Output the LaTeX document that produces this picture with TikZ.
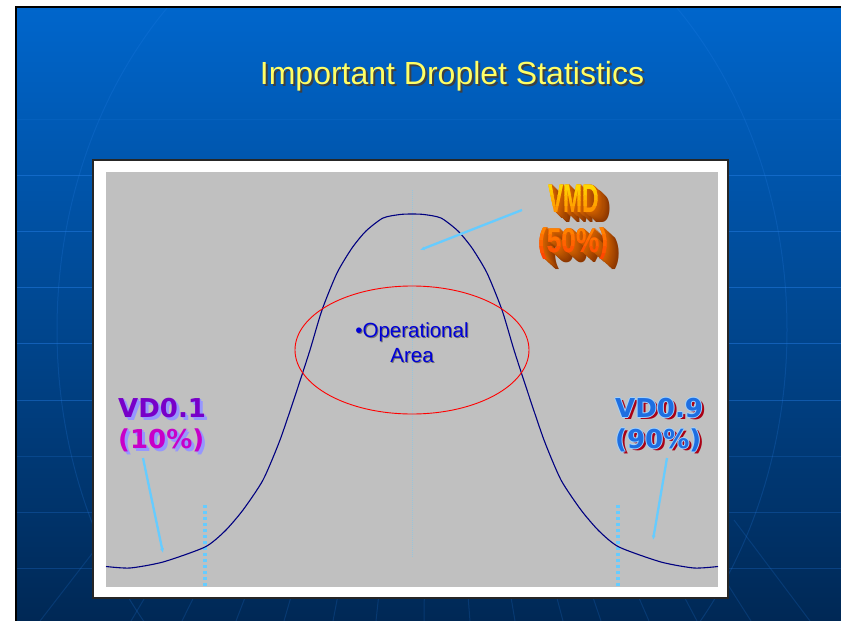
\documentclass[tikz,border=0pt]{standalone}
\usepackage{fontspec}
\usepackage{graphicx}
\setmainfont{Liberation Sans}
\newfontfamily\wordfont{DejaVu Sans}
\usetikzlibrary{arrows.meta,shapes.geometric}

\definecolor{slideTop}{RGB}{0,102,204}
\definecolor{slideMid}{RGB}{0,80,160}
\definecolor{slideBot}{RGB}{0,40,85}
\definecolor{gridLine}{RGB}{40,130,235}
\definecolor{plotGray}{RGB}{192,192,192}
\definecolor{curveBlue}{RGB}{0,0,128}
\definecolor{pointer}{RGB}{102,204,255}
\definecolor{titleYellow}{RGB}{255,255,102}
\definecolor{opBlue}{RGB}{0,0,215}
\definecolor{vmdYellow}{RGB}{255,230,0}
\definecolor{vmdOrange}{RGB}{255,150,0}
\definecolor{pctOrange}{RGB}{255,145,0}
\definecolor{pctRed}{RGB}{255,70,0}
\definecolor{extLight}{RGB}{215,100,0}
\definecolor{extDark}{RGB}{140,55,0}
\definecolor{lowPurple}{RGB}{120,0,200}
\definecolor{lowMagenta}{RGB}{200,0,200}
\definecolor{lowShadow}{RGB}{150,150,255}
\definecolor{highBlue}{RGB}{30,110,225}
\definecolor{highRim}{RGB}{160,210,255}
\definecolor{highShadow}{RGB}{170,0,20}

\tikzstyle{slidetitle} = [text=titleYellow, font=\fontsize{32}{32}\selectfont, inner sep=0pt, anchor=base]
\tikzstyle{gridline} = [gridLine, line width=1pt]
\tikzstyle{optext} = [text=opBlue, font=\fontsize{20.5}{25}\selectfont, align=center, inner sep=0pt, anchor=base]
\tikzstyle{pointerline} = [pointer, line width=2.3pt, -{Latex[length=4.5pt,width=4pt]}]
\tikzstyle{quantile} = [pointer, line width=3.5pt, dash pattern=on 3pt off 3pt]
\tikzstyle{art} = [inner sep=0pt, anchor=base west]
\tikzstyle{vdtext} = [inner sep=0pt, anchor=base west, font=\wordfont\bfseries\fontsize{26}{26}\selectfont]

\newcommand{\vmdword}{\scalebox{0.57}[1]{\fontsize{40}{40}\selectfont\bfseries VMD}}
\newcommand{\pctword}{\scalebox{0.77}[1]{\fontsize{34}{34}\selectfont\bfseries (50\%)}}

\begin{document}
\begin{tikzpicture}[x=1pt,y=-1pt]
\useasboundingbox (0,0) rectangle (841,621);
\fill[white] (0,0) rectangle (841,621);

% slide background
\shade[top color=slideTop, middle color=slideMid, bottom color=slideBot] (16,7) rectangle (841,621);
\begin{scope}
  \clip (16,7) rectangle (841,621);
  \foreach \gy/\op in {119/0.15,175/0.45,231/0.45,287/0.45,343/0.45,400/0.4,456/0.2,512/0.25,568/0.25}
    \draw[gridline, opacity=\op] (16,\gy) -- (841,\gy);
  \draw[gridline, opacity=0.2] (422,330) ellipse [x radius=365, y radius=450];
  \foreach \bx in {40,131,182,236,284,333,376,424,470,515,563,601,649,697,751,810}
    \draw[gridline, opacity=0.18] ({430+(\bx-430)*0.8},520) -- (\bx,621);
\end{scope}
\draw[black, line width=2pt] (16,621) -- (16,7) -- (841,7);

% title
\node[slidetitle, text=black!75] (titleShadow) at (454,86) {Important Droplet Statistics};
\node[slidetitle] (title) at (452,84) {Important Droplet Statistics};

% chart frame
\draw[fill=white, draw=black!85, line width=1.5pt] (93,160) rectangle (728,598);
\fill[plotGray] (106,172) rectangle (718,587);

% median and quantile lines
\draw[pointer!45!plotGray, line width=0.5pt, dash pattern=on 0.7pt off 1.3pt] (412,190) -- (412,557);
\draw[quantile] (205,505) -- (205,588);
\draw[quantile] (618,505) -- (618,588);

% distribution curve
\draw[curveBlue, line width=1.1pt] plot[smooth, tension=0.4] coordinates {
  (106,566.5) (130,568) (163,562) (205,547) (225,531) (243,510) (263,480)
  (280,440) (297,390) (310,350) (322,310) (337,273) (352,248) (366,231)
  (383,218) (400,214.5) (412,214) (424,214.5) (441,218) (458,231) (472,248)
  (487,273) (502,310) (514,350) (527,390) (544,440) (561,480) (581,510)
  (599,531) (619,547) (661,562) (694,568) (718,566.5)};

% operational area
\node[draw=red, ellipse, line width=0.9pt, minimum width=234pt, minimum height=128pt, inner sep=0pt] (opRing) at (412,350) {};
\node[optext, text=black!55] (opShadow) at (413,363) {\textbullet Operational\\Area};
\node[optext] (opArea) at (412,362) {\textbullet Operational\\Area};

% VMD label
\foreach \k in {11,10,...,1} {
  \pgfmathtruncatemacro\p{\k*9}
  \node[art, text=extDark!\p!extLight] (vmd-ext-\k) at ({548+1.1*\k},{212+0.95*\k}) {\vmdword};
  \node[art, text=extDark!\p!extLight] (pct-ext-\k) at ({538+1.1*\k},{252+0.95*\k}) {\pctword};
}
\node[art, text=vmdOrange] (vmd) at (548,212) {\vmdword};
\node[art, text=pctRed] (pct) at (538,252) {\pctword};
\foreach \i in {0,...,4} {
  \pgfmathtruncatemacro\p{\i*20}
  \begin{scope}
    \clip (530,{180+5*\i}) rectangle (640,{185+5*\i});
    \node[art, text=vmdOrange!\p!vmdYellow] (vmd-band-\i) at (548,212) {\vmdword};
  \end{scope}
  \begin{scope}
    \clip (530,{222+6*\i}) rectangle (640,{228+6*\i});
    \node[art, text=pctRed!\p!pctOrange] (pct-band-\i) at (538,252) {\pctword};
  \end{scope}
}

% VD0.1 label
\foreach \k in {1.5,3} {
  \node[vdtext, text=lowShadow] (vdlow-sh-\k) at ({118+\k},{417+\k}) {VD0.1};
  \node[vdtext, text=lowShadow] (lowpct-sh-\k) at ({118+\k},{448+\k}) {(10\%)};
}
\node[vdtext, text=lowPurple] (vdlow) at (118,417) {VD0.1};
\node[vdtext, text=lowMagenta] (lowpct) at (118,448) {(10\%)};

% VD0.9 label
\node[vdtext, text=highShadow] (vdhigh-sh) at (618,419) {VD0.9};
\node[vdtext, text=highShadow] (highpct-sh) at (618,450) {(90\%)};
\foreach \dx/\dy [count=\n] in {1/0,-1/0,0/1,0/-1} {
  \node[vdtext, text=highRim] (vdhigh-rim-\n) at ({615+\dx},{417+\dy}) {VD0.9};
  \node[vdtext, text=highRim] (highpct-rim-\n) at ({615+\dx},{448+\dy}) {(90\%)};
}
\node[vdtext, text=highBlue] (vdhigh) at (615,417) {VD0.9};
\node[vdtext, text=highBlue] (highpct) at (615,448) {(90\%)};

% pointers
\coordinate (vmdTail) at (522,210);
\coordinate (vmdTip) at (420,250);
\coordinate (lowTail) at (143,458);
\coordinate (lowTip) at (163,553);
\coordinate (highTail) at (667,458);
\coordinate (highTip) at (653,540);
\draw[pointerline] (vmdTail) -- (vmdTip);
\draw[pointerline] (lowTail) -- (lowTip);
\draw[pointerline] (highTail) -- (highTip);
\end{tikzpicture}
\end{document}
